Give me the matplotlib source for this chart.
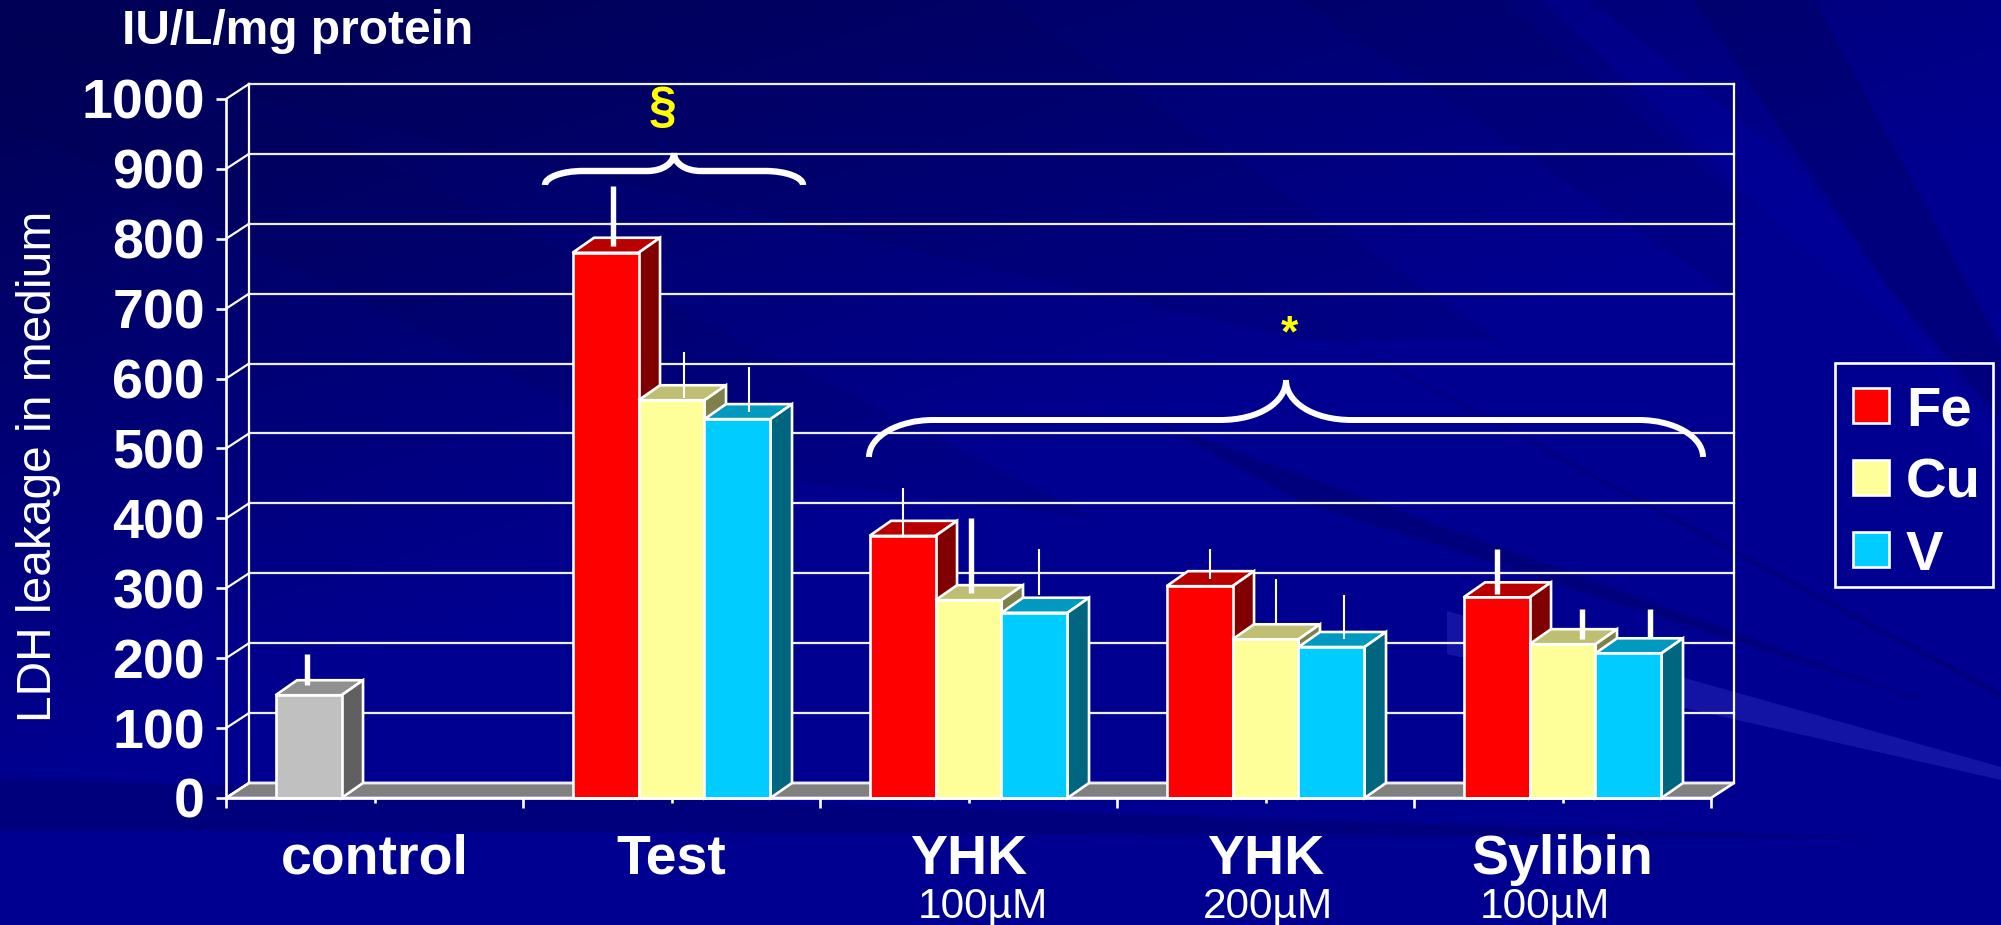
import numpy as np
import matplotlib
matplotlib.use('Agg')
import matplotlib.pyplot as plt
from matplotlib.path import Path
from matplotlib.patches import PathPatch, Patch, Rectangle

plt.rcParams['font.family'] = ['Liberation Sans', 'DejaVu Sans']

categories = ['control', 'Test', 'YHK', 'YHK', 'Sylibin']
doses = ['', '', '100µM', '200µM', '100µM']
metals = ['Fe', 'Cu', 'V']

# nan = not measured for that group
fe = [np.nan, 780, 375, 303, 287]
cu = [np.nan, 569, 283, 227, 220]
v = [np.nan, 542, 265, 216, 207]
control = [147]

# error whiskers are hand drawn on the slide, so low and high are read separately
fe_err_low = [np.nan, 790, 375, 313, 292]
fe_err_high = [np.nan, 875, 444, 356, 356]
cu_err_low = [np.nan, 572, 293, 247, 227]
cu_err_high = [np.nan, 638, 400, 313, 271]
v_err_low = [np.nan, 552, 290, 227, 229]
v_err_high = [np.nan, 617, 356, 291, 271]
control_err_low = [162]
control_err_high = [206]

# styling
W, H = 2001, 925
bar_w = 0.2222
depth_x, depth_y = 0.0725, 21.5
wall_x, wall_y = 0.0775, 21.5
thin, thick = 1.5, 3.9
fe_err_dx = [0, 0.024, 0.0, 0.034, 0.003]
cu_err_dx = [0, 0.042, 0.008, 0.035, 0.067]
v_err_dx = [0, 0.039, 0.015, 0.042, 0.074]
fe_err_lw = [0, thick, thin, thin, thick]
cu_err_lw = [0, thin, thick, thin, thick]
v_err_lw = [0, thin, thin, thin, thick]
palette = {
    'Fe': ('#FF0000', '#B80000', '#800000'),
    'Cu': ('#FFFF99', '#BFBF73', '#80804D'),
    'V': ('#00CCFF', '#0099BF', '#006680'),
    'control': ('#C0C0C0', '#909090', '#606060'),
}
white = '#FFFFFF'
edge = 1.9
grid = 1.6


def draw_bar(ax, x, val, colors, z):
    front, top, side = colors
    left, right = x - bar_w / 2, x + bar_w / 2
    ax.fill([left, right, right + depth_x, left + depth_x],
            [val, val, val + depth_y, val + depth_y],
            fc=top, ec=white, lw=edge, zorder=z, clip_on=False)
    ax.fill([right, right + depth_x, right + depth_x, right],
            [0, depth_y, val + depth_y, val],
            fc=side, ec=white, lw=edge, zorder=z, clip_on=False)
    ax.bar(x, val, bar_w, color=front, ec=white, lw=edge, zorder=z + 0.1, clip_on=False)


def brace(ax, x0, x_tip, x1, y_end, y_flat, y_tip, r, r_tip, lw):
    h = y_flat - y_tip
    verts = [(x0, y_end),
             (x0, y_flat + 0.45 * (y_end - y_flat)), (x0 + r * 0.45, y_flat), (x0 + r, y_flat),
             (x_tip - r_tip, y_flat),
             (x_tip - r_tip * 0.4, y_flat), (x_tip, y_flat - 0.45 * h), (x_tip, y_tip),
             (x_tip, y_flat - 0.45 * h), (x_tip + r_tip * 0.4, y_flat), (x_tip + r_tip, y_flat),
             (x1 - r, y_flat),
             (x1 - r * 0.45, y_flat), (x1, y_flat + 0.45 * (y_end - y_flat)), (x1, y_end)]
    codes = [Path.MOVETO, Path.CURVE4, Path.CURVE4, Path.CURVE4, Path.LINETO,
             Path.CURVE4, Path.CURVE4, Path.CURVE4, Path.CURVE4, Path.CURVE4, Path.CURVE4,
             Path.LINETO, Path.CURVE4, Path.CURVE4, Path.CURVE4]
    ax.add_patch(PathPatch(Path(verts, codes), fc='none', ec=white, lw=lw, capstyle='butt'))


fig = plt.figure(figsize=(W / 100, H / 100), dpi=100)

# slide background in pixel coordinates
bg = fig.add_axes([0, 0, 1, 1], zorder=0)
yy, xx = np.mgrid[0:1:200j, 0:1:400j]
shade = np.clip(1.1 - 0.9 * xx - 1.3 * yy, 0, 1)
img = np.zeros((200, 400, 3))
img[..., 2] = (144 - 58 * shade) / 255
bg.imshow(img, extent=[0, W, H, 0], aspect='auto', zorder=0)
bg.set_xlim(0, W)
bg.set_ylim(H, 0)
bg.axis('off')
soft_bands = [
    [(0, 40), (500, 0), (1000, 0), (1500, 340), (1300, 340)],
    [(0, 120), (300, 120), (1100, 520), (700, 470)],
    [(1300, 0), (1500, 0), (1740, 200), (1740, 300)],
]
for band in soft_bands:
    bg.fill(*zip(*band), color='#000050', alpha=0.15, lw=0, zorder=1)
dark_bands = [
    [(1693, 0), (1814, 0), (2001, 345), (2001, 420), (1890, 290)],
    [(1100, 210), (2001, 692), (2001, 698)],
    [(1150, 420), (1940, 707), (1300, 501)],
    [(0, 778), (1300, 820), (1900, 838), (1300, 835), (0, 830)],
]
for band in dark_bands:
    bg.fill(*zip(*band), color='#000050', alpha=0.3, lw=0, zorder=1)
bg.fill([1541, 1590, 1790, 2001, 2001, 1926], [0, 0, 160, 440, 470, 360], color='#0000A8', alpha=0.3, lw=0, zorder=1)
bg.fill([1447, 2001, 2001, 1447], [611, 767, 780, 654], color='#2828B8', alpha=0.5, lw=0, zorder=2)

# chart, its axes box is the front plane of the 3D box
ax = fig.add_axes([226 / W, 1 - 798 / H, (1711 - 226) / W, (798 - 99) / H], zorder=1)
ax.patch.set_alpha(0)
ax.set_xlim(-0.5, 4.5)
ax.set_ylim(0, 1000)
for s in ['top', 'right']:
    ax.spines[s].set_visible(False)
for s in ['left', 'bottom']:
    ax.spines[s].set_color(white)
    ax.spines[s].set_linewidth(edge)
    ax.spines[s].set_zorder(8)

yticks = np.arange(0, 1001, 100)
ax.set_yticks(yticks)
ax.tick_params(axis='y', colors=white, length=7.2, width=edge, pad=8, labelsize=40)
for t in ax.get_yticklabels():
    t.set_fontweight('bold')
ax.set_xticks(np.arange(-0.5, 5, 1))
ax.set_xticklabels([])
ax.tick_params(axis='x', which='major', colors=white, length=7.2, width=edge)
ax.set_xticks(np.arange(5), minor=True)
ax.set_xticklabels(categories, minor=True, fontsize=40, fontweight='bold', color=white)
ax.tick_params(axis='x', which='minor', colors=white, length=3.6, width=edge, pad=22)

# floor and walls
ax.fill([-0.5, 4.5, 4.5 + wall_x, -0.5 + wall_x], [0, 0, wall_y, wall_y], fc='#808080', ec=white, lw=edge,
        zorder=1, clip_on=False)
for y in yticks:
    ax.plot([-0.5, -0.5 + wall_x], [y, y + wall_y], color=white, lw=grid, zorder=1, clip_on=False)
    ax.plot([-0.5 + wall_x, 4.5 + wall_x], [y + wall_y, y + wall_y], color='#EEEEF8', lw=grid, zorder=1, clip_on=False)
for x in [-0.5 + wall_x, 4.5 + wall_x]:
    ax.plot([x, x], [wall_y, 1000 + wall_y], color=white, lw=grid, zorder=1, clip_on=False)

# bars and whiskers
draw_bar(ax, 0 - bar_w, control[0], palette['control'], 2)
ax.vlines(0 - bar_w - 0.005, control_err_low[0], control_err_high[0], color=white, lw=thick, zorder=7)
series = [(fe, fe_err_low, fe_err_high, fe_err_dx, fe_err_lw, 'Fe'),
          (cu, cu_err_low, cu_err_high, cu_err_dx, cu_err_lw, 'Cu'),
          (v, v_err_low, v_err_high, v_err_dx, v_err_lw, 'V')]
for j, (vals, lows, highs, dxs, lws, name) in enumerate(series):
    for i in range(1, 5):
        x = i + (j - 1) * bar_w
        draw_bar(ax, x, vals[i], palette[name], 2 + j)
        ax.vlines(x + dxs[i], lows[i], highs[i], color=white, lw=lws[i], zorder=7, clip_on=False)

# overlay for slide annotations, pixel coordinates again
over = fig.add_axes([0, 0, 1, 1], zorder=2)
over.set_xlim(0, W)
over.set_ylim(H, 0)
over.axis('off')
brace(over, 545, 674, 803, 185, 171, 153, 38, 27, 4.6)
brace(over, 869, 1286, 1703, 457, 420, 380, 64, 66, 4.3)
over.text(663, 109, '§', color='#FFFF00', fontsize=36, fontweight='bold', ha='center', va='center')
over.text(1289, 335, '*', color='#FFFF00', fontsize=32, fontweight='bold', ha='center', va='center')
over.text(122, 32, 'IU/L/mg protein', color=white, fontsize=34.5, fontweight='bold', ha='left', va='center')
over.text(39, 466, 'LDH leakage in medium', color=white, fontsize=34.5, rotation=90, ha='center', va='center')
for x, d in zip([983, 1268, 1545], doses[2:]):
    over.text(x, 907, d, color=white, fontsize=30.5, ha='center', va='center')

over.add_patch(Rectangle((1835, 363), 158, 224, fc='none', ec=white, lw=edge))
handles = [Patch(fc=palette[m][0], ec=white, lw=edge) for m in metals]
over.legend(handles, metals, loc='upper left', bbox_to_anchor=(1853 / W, 1 - 385 / H),
            prop={'weight': 'bold', 'size': 40.5}, labelcolor=white, frameon=False, borderpad=0,
            handlelength=0.64, handleheight=0.585, handletextpad=0.3, labelspacing=0.36, borderaxespad=0)

fig.savefig('out.png', dpi=100)
